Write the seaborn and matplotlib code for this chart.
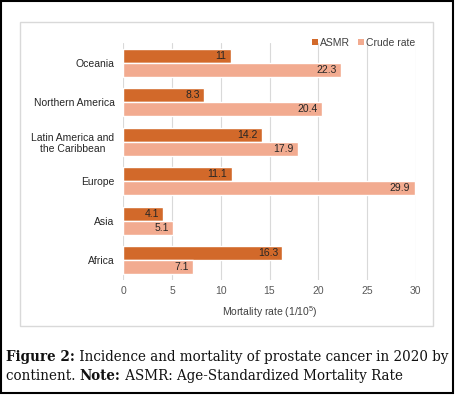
import matplotlib
matplotlib.use("Agg")
import matplotlib.pyplot as plt
import seaborn as sns
import pandas as pd
from matplotlib.patches import Rectangle, Patch

regions = ["Oceania", "Northern America", "Latin America and\nthe Caribbean",
           "Europe", "Asia", "Africa"]
asmr = [11, 8.3, 14.2, 11.1, 4.1, 16.3]
crude = [22.3, 20.4, 17.9, 29.9, 5.1, 7.1]
series = ["ASMR", "Crude rate"]
xticks = [0, 5, 10, 15, 20, 25, 30]
xlabel = "Mortality rate (1/10$^{5}$)"
caption_bold1 = "Figure 2:"
caption_rest1 = " Incidence and mortality of prostate cancer in 2020 by"
caption_line2a = "continent. "
caption_bold2 = "Note:"
caption_line2b = " ASMR: Age-Standardized Mortality Rate"

colors = ["#D2692A", "#F2AB90"]

sns.set_theme(style="white")
plt.rcParams["font.family"] = ["Liberation Sans", "DejaVu Sans"]
plt.rcParams["mathtext.default"] = "regular"

df = pd.DataFrame({
    "Region": regions * 2,
    "Rate": asmr + crude,
    "Series": [series[0]] * len(regions) + [series[1]] * len(regions),
})

W, H = 455, 395
fig = plt.figure(figsize=(W / 100, H / 100), dpi=100)
fig.patch.set_facecolor("white")

def fx(px):
    return px / W

def fy(py):
    return 1 - py / H

# Outer black frame
fig.add_artist(Rectangle((fx(1), fy(393)), fx(452), 392 / H, transform=fig.transFigure,
                         fill=False, edgecolor="black", linewidth=1.5))
# Chart box
fig.add_artist(Rectangle((fx(20), fy(326)), fx(413), 304 / H, transform=fig.transFigure,
                         fill=False, edgecolor="#D9D9D9", linewidth=1.0))

ax = fig.add_axes([fx(123.5), fy(280), fx(292), 237 / H])
sns.barplot(data=df, y="Region", x="Rate", hue="Series", orient="h",
            palette=colors, width=0.72, gap=0, ax=ax, legend=False,
            saturation=1, order=regions, hue_order=series)

ax.set_xlim(0, 30)
ax.set_xticks(xticks)
ax.set_xticklabels([str(t) for t in xticks], fontsize=7.5, color="#595959")
ax.set_ylim(len(regions) - 0.5, -0.5)
ax.tick_params(axis="y", labelsize=7.5, labelcolor="#262626", length=0, pad=6.5)
ax.tick_params(axis="x", length=0, pad=4)
for lbl in ax.get_yticklabels():
    lbl.set_horizontalalignment("right")
    lbl.set_multialignment("center")
ax.set_ylabel("")
ax.set_xlabel(xlabel, fontsize=7.5, color="#404040", labelpad=6)
ax.grid(axis="x", color="#D9D9D9", linewidth=0.8)
ax.set_axisbelow(True)
for s in ax.spines.values():
    s.set_visible(False)

for cont in ax.containers:
    for p in cont:
        w = p.get_width()
        ax.annotate(f"{w:g}", (w, p.get_y() + p.get_height() / 2),
                    xytext=(-3, 0), textcoords="offset points",
                    ha="right", va="center", fontsize=7.5, color="#262626")

handles = [Patch(facecolor=c, edgecolor="none") for c in colors]
ax.legend(handles, series, loc="center right", bbox_to_anchor=(1.0, 1.0),
          ncol=2, frameon=False, fontsize=7.5, handlelength=0.5, handleheight=0.5,
          handletextpad=0.25, columnspacing=0.8, labelcolor="#404040",
          borderaxespad=0, borderpad=0)

cap_kw = dict(fontsize=9.75, family="DejaVu Serif", color="#111111", va="baseline")
t1 = fig.text(fx(6), fy(361), caption_bold1, fontweight="bold", **cap_kw)
fig.canvas.draw()
r = fig.canvas.get_renderer()
bb = t1.get_window_extent(r)
fig.text(bb.x1 / W, fy(361), caption_rest1, **cap_kw)
t2 = fig.text(fx(6), fy(380), caption_line2a, **cap_kw)
bb2 = t2.get_window_extent(r)
t3 = fig.text(bb2.x1 / W, fy(380), caption_bold2, fontweight="bold", **cap_kw)
bb3 = t3.get_window_extent(r)
fig.text(bb3.x1 / W, fy(380), caption_line2b, **cap_kw)

fig.savefig("out.png", dpi=100)
